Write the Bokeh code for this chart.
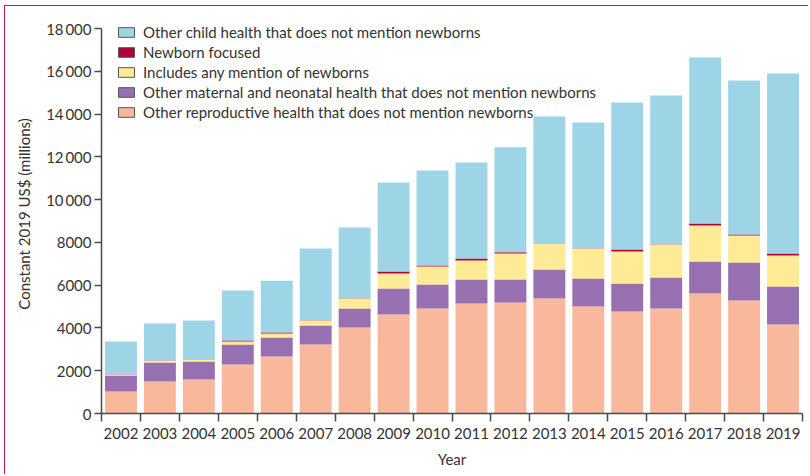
from bokeh.plotting import figure
from bokeh.models import (ColumnDataSource, FixedTicker, Legend, LegendItem, Range1d,
                          CDSView, IndexFilter)
from bokeh.embed import file_html
from bokeh.resources import INLINE
import numpy as np

years = ["2002", "2003", "2004", "2005", "2006", "2007", "2008", "2009", "2010",
         "2011", "2012", "2013", "2014", "2015", "2016", "2017", "2018", "2019"]

other_reproductive = [1030, 1500, 1590, 2290, 2660, 3225, 4020, 4630, 4910,
                      5140, 5190, 5380, 5000, 4770, 4910, 5610, 5280, 4160]
other_maternal_neonatal = [750, 890, 840, 935, 888, 888, 888, 1216, 1121,
                           1122, 1075, 1356, 1309, 1309, 1449, 1495, 1776, 1776]
mentions_newborns = [47, 93, 94, 140, 187, 234, 467, 701, 842,
                     888, 1215, 1215, 1402, 1496, 1542, 1683, 1262, 1449]
newborn_focused = [5, 10, 10, 47, 47, 15, 15, 93, 47,
                   94, 60, 10, 10, 93, 15, 94, 47, 94]
other_child = [1538, 1720, 1813, 2337, 2430, 3350, 3304, 4160, 4440,
               4487, 4908, 5926, 5879, 6871, 6949, 7758, 7198, 8414]

series_keys = ["repro", "maternal", "mention", "focused", "child"]
series_labels = ["Other reproductive health that does not mention newborns",
                 "Other maternal and neonatal health that does not mention newborns",
                 "Includes any mention of newborns",
                 "Newborn focused",
                 "Other child health that does not mention newborns"]
series_colors = ["#f9b89c", "#9670b0", "#ffea96", "#b4003a", "#9dd5e7"]

y_ticks = [0, 2000, 4000, 6000, 8000, 10000, 12000, 14000, 16000, 18000]
y_max = 18000

FONT = "Lato"
TXT = "#333333"
AX = "#4a4a4a"

n = len(years)
centers = list(np.arange(n) + 0.5)
bounds = list(np.arange(n + 1).astype(float))

# layout: axis length of 385 px for 0..18000, frame extends a bit higher for the legend
H, TOP, BOT = 469, 8, 62
frame_h = H - TOP - BOT
y_end = y_max * frame_h / 385.0

source = ColumnDataSource(dict(x=centers, repro=other_reproductive,
                               maternal=other_maternal_neonatal,
                               mention=mentions_newborns,
                               focused=newborn_focused, child=other_child))

p = figure(width=804, height=H, output_backend="svg", toolbar_location=None,
           x_range=Range1d(0, n), y_range=Range1d(0, y_end),
           min_border_left=96, min_border_right=7, min_border_top=TOP,
           min_border_bottom=BOT)
p.margin = (5, 0, 0, 4)
p.styles = {"border-top": "1.5px solid #c0184a", "border-left": "1.5px solid #c0184a"}

p.vbar_stack(series_keys, x="x", width=0.82, source=source,
             color=series_colors, line_color=None)

# legend proxies (outlined boxes): zero-size bars so only the legend swatch shows
items = []
for key, lab, col in reversed(list(zip(series_keys, series_labels, series_colors))):
    r = p.vbar(x="x", top=key, bottom=key, width=0, source=source,
               view=CDSView(filter=IndexFilter(indices=[0])),
               fill_color=col, line_color="#555555", line_width=1)
    items.append(LegendItem(label=lab, renderers=[r]))

legend = Legend(items=items, location=(15, 292), orientation="vertical",
                glyph_width=20, glyph_height=12, label_standoff=7,
                label_height=17, spacing=2, padding=0, margin=0,
                background_fill_alpha=0, border_line_color=None,
                label_text_font=FONT, label_text_font_size="15px",
                label_text_color=TXT)
p.add_layout(legend, "center")

p.grid.visible = False
p.outline_line_color = None
p.background_fill_color = "white"
p.border_fill_color = "white"

# y axis
ya = p.yaxis[0]
ya.ticker = FixedTicker(ticks=y_ticks)
ya.bounds = (0, y_max)
ya.major_label_overrides = {t: (f"{t // 1000}\u2009000" if t >= 10000 else str(t)) for t in y_ticks}
ya.axis_label = "Constant 2019 US$ (millions)"
ya.minor_tick_line_color = None
ya.major_tick_in = 0
ya.major_tick_out = 7

# x axis
xa = p.xaxis[0]
xa.ticker = FixedTicker(ticks=centers, minor_ticks=bounds)
xa.major_label_overrides = {c: y for c, y in zip(centers, years)}
xa.axis_label = "Year"
xa.major_tick_line_color = None
xa.major_tick_in = 0
xa.major_tick_out = 8
xa.minor_tick_in = 0
xa.minor_tick_out = 8
xa.minor_tick_line_color = AX
xa.minor_tick_line_width = 1.5

for ax in (xa, ya):
    ax.axis_line_color = AX
    ax.axis_line_width = 1.5
    ax.major_tick_line_width = 1.5
    ax.major_label_text_font = FONT
    ax.major_label_text_font_size = "15px"
    ax.major_label_text_color = TXT
    ax.axis_label_text_font = FONT
    ax.axis_label_text_font_size = "15px"
    ax.axis_label_text_font_style = "normal"
    ax.axis_label_text_color = TXT
ya.major_tick_line_color = AX
ya.major_label_standoff = 3
ya.axis_label_standoff = 10
xa.major_label_standoff = 6
xa.axis_label_standoff = 8

open("out.html", "w").write(file_html(p, INLINE))
